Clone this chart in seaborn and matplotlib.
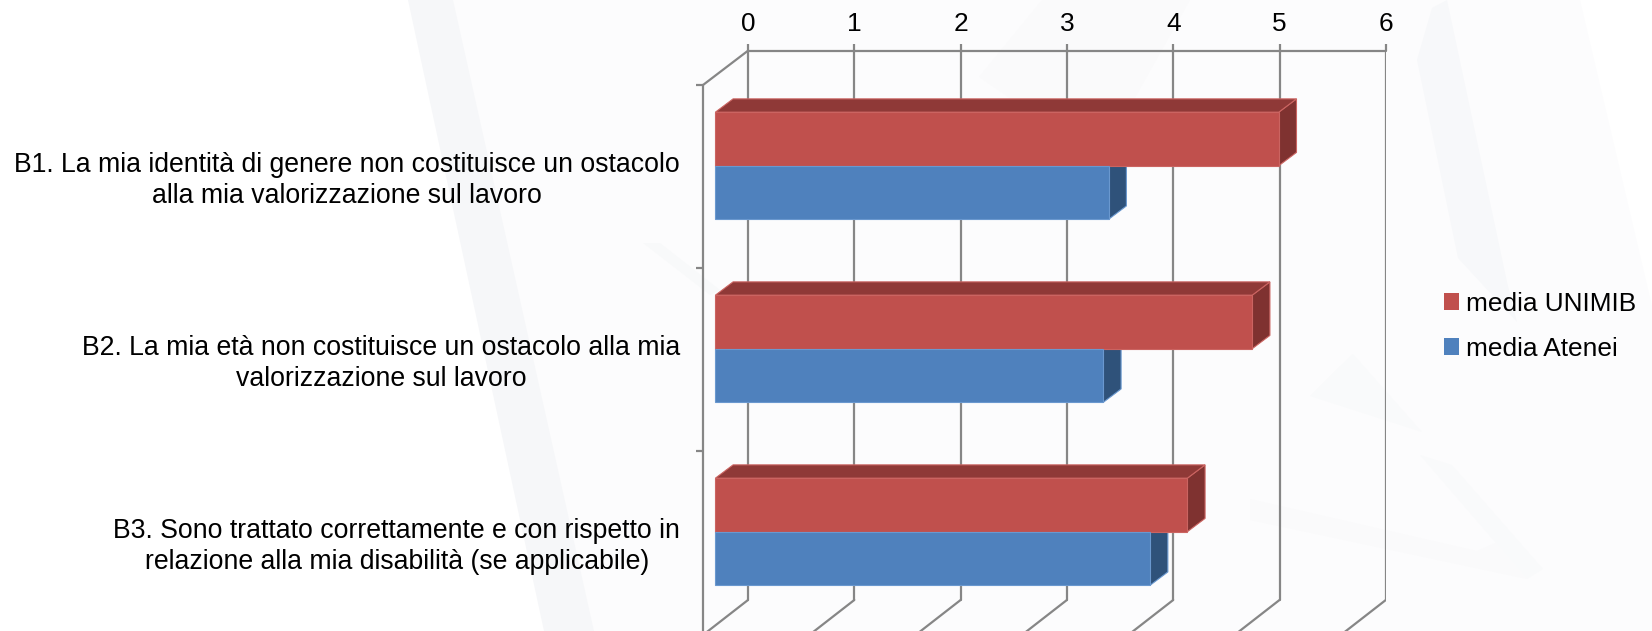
import numpy as np
import pandas as pd
import seaborn as sns
import matplotlib
matplotlib.use('Agg')
import matplotlib.pyplot as plt
from matplotlib.patches import Polygon

# values (bars sit on their own front plane, see depth below)
categories = ['B1. La mia identità di genere non costituisce un ostacolo\nalla mia valorizzazione sul lavoro',
              'B2. La mia età non costituisce un ostacolo alla mia\nvalorizzazione sul lavoro',
              'B3. Sono trattato correttamente e con rispetto in\nrelazione alla mia disabilità (se applicabile)']
media_unimib = [5.30, 5.05, 4.44]
media_atenei = [3.70, 3.65, 4.09]
series_names = ['media UNIMIB', 'media Atenei']
x_ticks = [0, 1, 2, 3, 4, 5, 6]

W, H = 1652, 631
RED, BLUE = '#C0504D', '#4F81BD'
RED_TOP, RED_SIDE, BLUE_SIDE = '#8F3937', '#7F3230', '#2F527A'
RED_EDGE, BLUE_EDGE = '#CB6461', '#6A98CF'
GREY = '#868686'

# pixel scale of the plot
px_x = 106.3
px_y = 183.0
x0_px, y0_px = 715.4, 165.7

sns.set_theme(style='white')
plt.rcParams['font.family'] = ['Liberation Sans', 'DejaVu Sans']
FS = 18.9
FS_CAT = 19.15

df = pd.DataFrame({
    'cat': categories * 2,
    'serie': [series_names[0]] * 3 + [series_names[1]] * 3,
    'val': media_unimib + media_atenei,
})

fig = plt.figure(figsize=(W / 100, H / 100), dpi=100, facecolor='white')

# pale watermark behind the chart
bg = fig.add_axes([0, 0, 1, 1], zorder=0)
bg.set_xlim(0, W)
bg.set_ylim(H, 0)
bg.axis('off')
watermark = [
    ([(452, 0), (1580, 0), (1652, 306), (1652, 631), (594, 631)], '#FCFCFD'),
    ([(408, 0), (453, 0), (594, 631), (544, 631)], '#F6F7F9'),
    ([(1432, 8), (1417, 60), (1458, 258), (1517, 322), (1507, 282), (1447, 0)], '#F7F8FA'),
    ([(1042, 0), (979, 77), (1100, 160), (1190, 0)], '#FAFAFB'),
    ([(643, 243), (660, 243), (720, 290), (710, 295)], '#F8F9FA'),
    ([(1340, 366), (1353, 354), (1422, 432), (1310, 396)], '#F9FAFB'),
    ([(1420, 455), (1452, 465), (1543, 569), (1527, 579)], '#F9FAFB'),
    ([(1250, 499), (1477, 551), (1495, 543), (1527, 579), (1250, 520)], '#FAFAFB'),
]
for pts, col in watermark:
    bg.add_patch(Polygon(pts, closed=True, fc=col, ec='none'))

left, right, top, bottom = 703, 1386, 50.7, H
ax = fig.add_axes([left / W, 1 - bottom / H, (right - left) / W, (bottom - top) / H], zorder=1)
ax.patch.set_alpha(0)

sns.barplot(data=df, y='cat', x='val', hue='serie', hue_order=series_names,
            palette=[RED, BLUE], width=0.585, gap=0, saturation=1, orient='h', ax=ax, legend=True)

ax.set_xlim((left - x0_px) / px_x, (right - x0_px) / px_x)
ax.set_ylim((bottom - y0_px) / px_y, (top - y0_px) / px_y)

depth_x = 32.6 / px_x                # bar plane to back wall
bar_dx, bar_dy = 17.7 / px_x, 13.3 / px_y
front_dx = (703 - 715.4) / px_x
floor_y = (600 - y0_px) / px_y
front_y = (635 - y0_px) / px_y
top_y = (50.7 - y0_px) / px_y
corner_y = (85 - y0_px) / px_y

# walls and gridlines
lw = 1.6
for t in x_ticks:
    ax.plot([t + depth_x] * 2, [top_y, floor_y], color=GREY, lw=lw, zorder=1)
    ax.plot([t + depth_x, t + front_dx], [floor_y, front_y], color=GREY, lw=lw, zorder=1)
ax.plot([depth_x, 6 + depth_x], [top_y, top_y], color=GREY, lw=lw, zorder=1, clip_on=False)
ax.plot([depth_x, front_dx], [top_y, corner_y], color=GREY, lw=lw, zorder=1, clip_on=False)
ax.plot([front_dx, front_dx], [corner_y, front_y], color=GREY, lw=lw, zorder=1, clip_on=False)

# fake 3D faces on the bars
n = len(categories)
for i, p in enumerate(ax.patches[:2 * n]):
    is_red = i < n
    x1 = p.get_width()
    y1, y2 = p.get_y(), p.get_y() + p.get_height()
    edge = RED_EDGE if is_red else BLUE_EDGE
    p.set_edgecolor(edge)
    p.set_linewidth(0.8)
    p.set_zorder(5 if is_red else 6)
    side = [(x1, y1), (x1 + bar_dx, y1 - bar_dy), (x1 + bar_dx, y2 - bar_dy), (x1, y2)]
    ax.add_patch(Polygon(side, closed=True, fc=RED_SIDE if is_red else BLUE_SIDE, ec=edge,
                         lw=0.8, zorder=4 if is_red else 2))
    if is_red:
        up = [(0, y1), (bar_dx, y1 - bar_dy), (x1 + bar_dx, y1 - bar_dy), (x1, y1)]
        ax.add_patch(Polygon(up, closed=True, fc=RED_TOP, ec=edge, lw=0.8, zorder=4))

# axes text
ax.xaxis.tick_top()
ax.xaxis.set_label_position('top')
ax.set_xticks([t + depth_x for t in x_ticks], [str(t) for t in x_ticks])
ax.tick_params(axis='x', length=5, width=lw, color=GREY, pad=5.8, labelsize=FS, labelcolor='black')
ax.set_yticks([i + 0.05 for i in range(n)], categories, ma='center', linespacing=1.25)
ax.tick_params(axis='y', which='major', length=0, pad=16.5, labelsize=FS_CAT, labelcolor='black')
ax.set_yticks([(85 - y0_px) / px_y + i for i in range(n)], minor=True)
ax.tick_params(axis='y', which='minor', left=True, length=5, width=lw, color=GREY)
ax.set_xlabel('')
ax.set_ylabel('')
sns.despine(ax=ax, left=True, bottom=True, top=True, right=True)

leg = ax.legend(handles=ax.get_legend().legend_handles, labels=series_names,
                loc='upper left', bbox_to_anchor=(1436 / W, 1 - 284 / H),
                bbox_transform=fig.transFigure, frameon=False, fontsize=FS, labelcolor='black',
                handlelength=0.58, handleheight=0.58, handletextpad=0.28,
                labelspacing=0.8, borderpad=0.3, borderaxespad=0)
for h in leg.legend_handles:
    h.set_edgecolor('none')

fig.savefig('out.png', dpi=100)
